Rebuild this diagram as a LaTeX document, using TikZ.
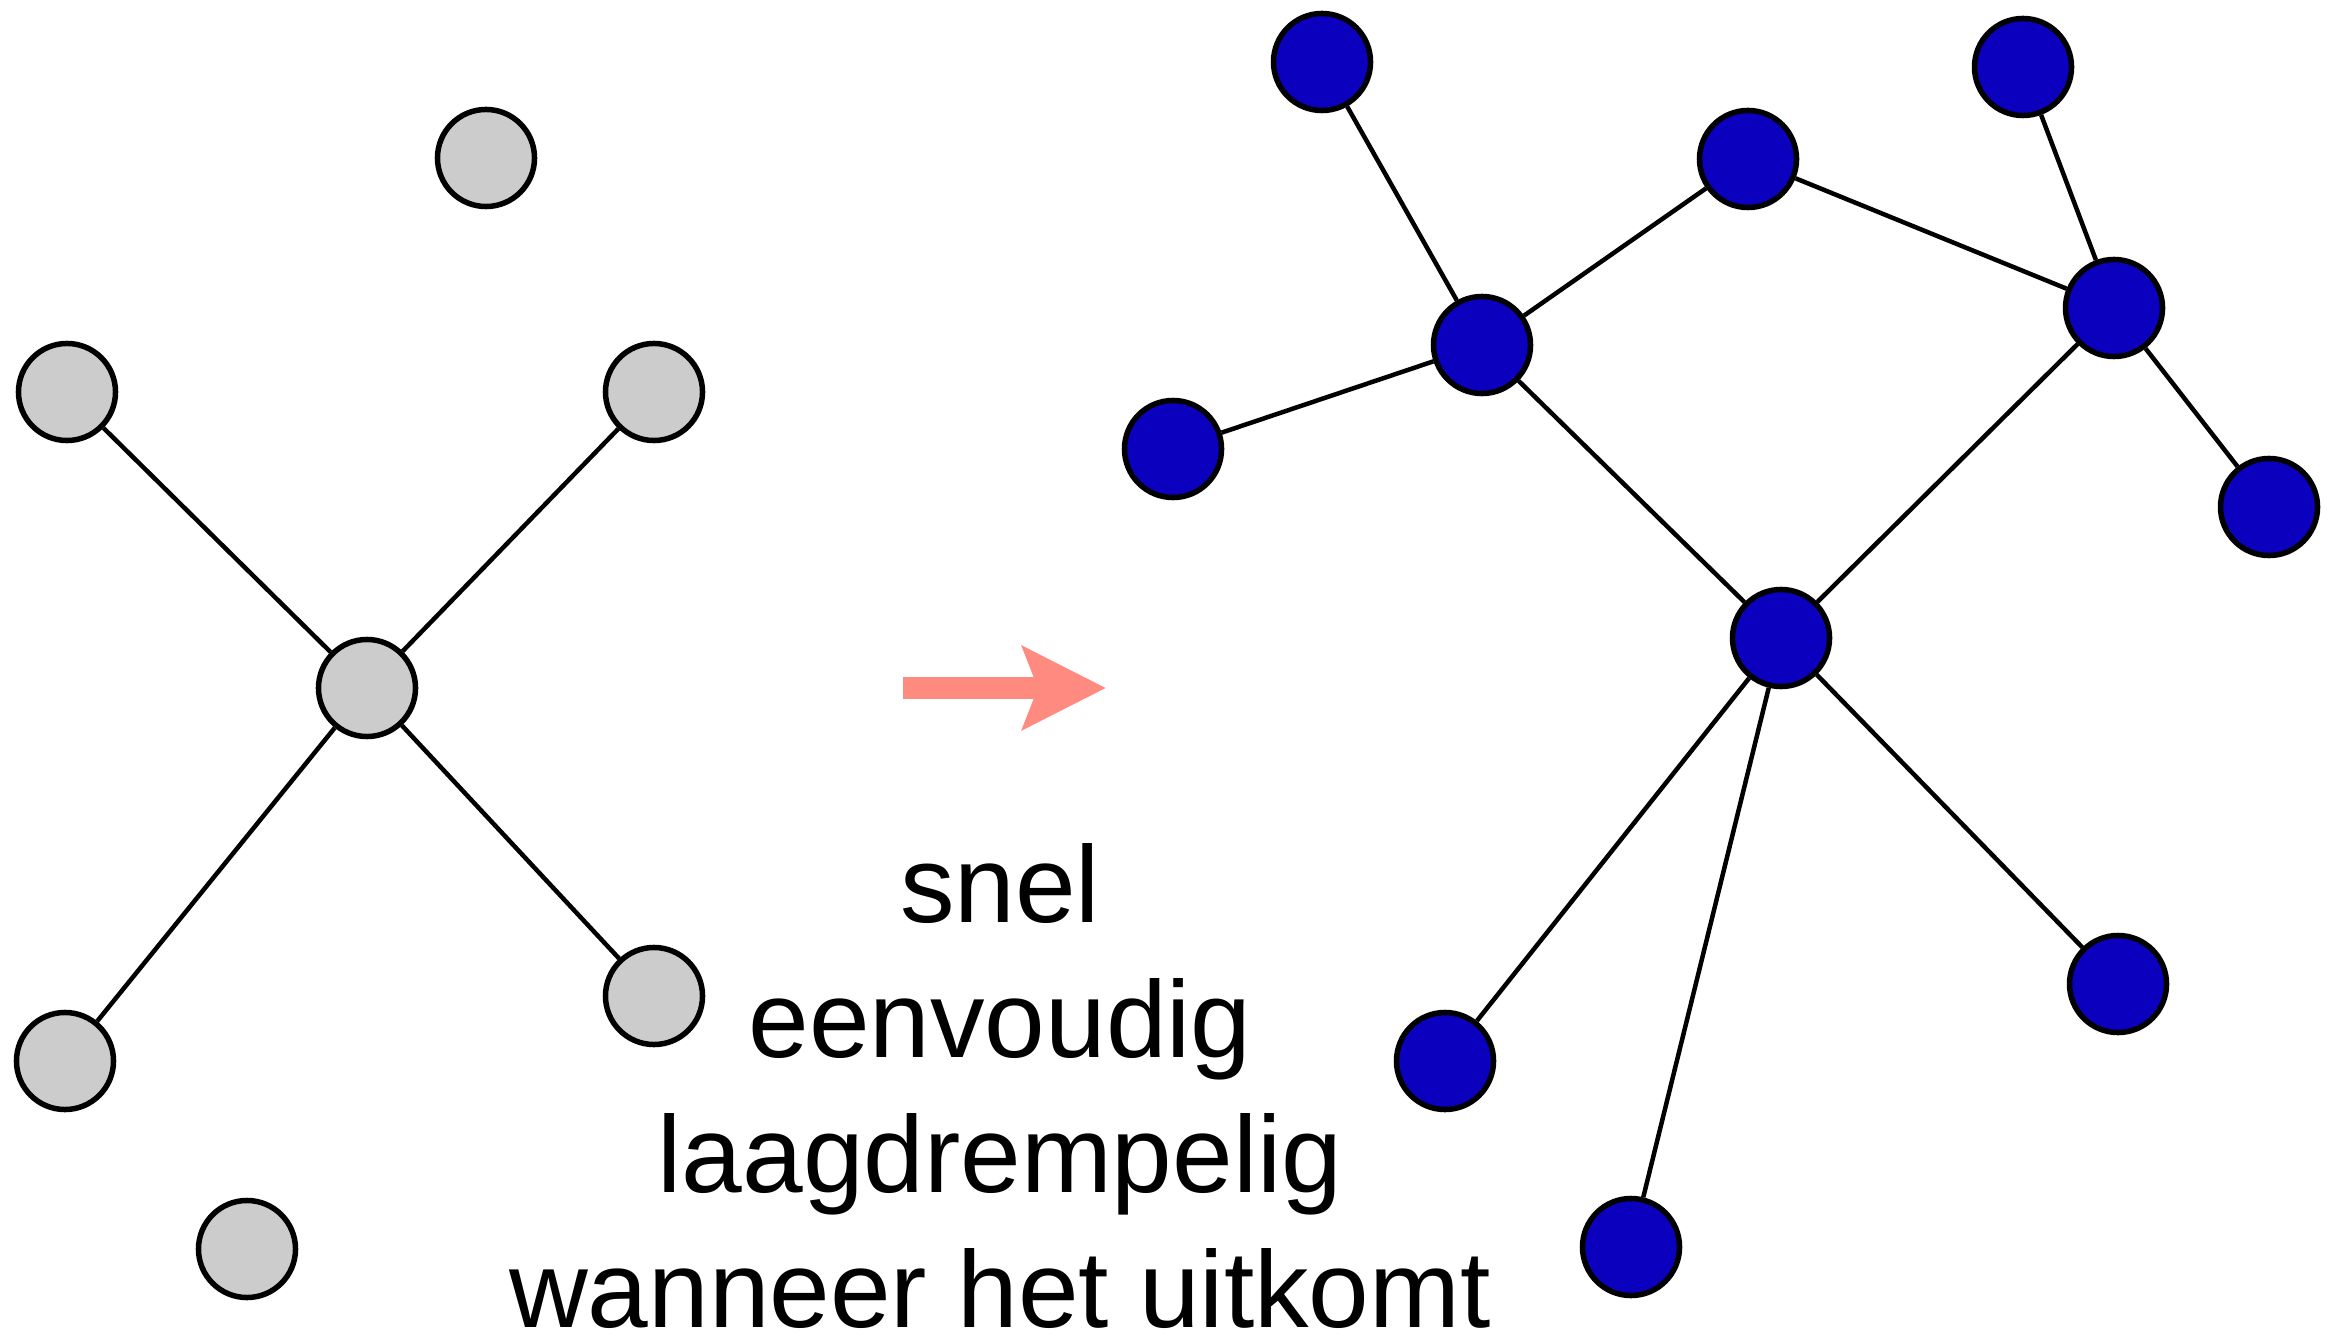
\documentclass[tikz,border=0pt]{standalone}
\usepackage{fontspec}
\setmainfont{Liberation Sans}
\usetikzlibrary{arrows.meta}
\definecolor{nodegray}{RGB}{204,204,204}
\definecolor{nodeblue}{RGB}{10,0,190}
\definecolor{salmon}{RGB}{255,138,128}
\tikzset{
  gnode/.style={circle,draw,fill=nodegray,line width=0.055cm,minimum size=0.97cm,inner sep=0pt},
  bnode/.style={circle,draw,fill=nodeblue,line width=0.055cm,minimum size=0.97cm,inner sep=0pt},
  edge/.style={line width=0.045cm},
  txt/.style={anchor=base,inner sep=0pt,font=\fontsize{31}{38}\selectfont}
}
\begin{document}
\begin{tikzpicture}[x=0.01cm,y=-0.01cm]
\useasboundingbox (0,0) rectangle (2331,1340);
\node[gnode] (l1) at (486,158) {};
\node[gnode] (l2) at (67,392) {};
\node[gnode] (l3) at (654,392) {};
\node[gnode] (lc) at (367,688) {};
\node[gnode] (l4) at (65,1061) {};
\node[gnode] (l5) at (654,996) {};
\node[gnode] (l6) at (247,1249) {};
\draw[edge] (l2) -- (lc);
\draw[edge] (l3) -- (lc);
\draw[edge] (lc) -- (l4);
\draw[edge] (lc) -- (l5);
\node[bnode] (a) at (1322,62) {};
\node[bnode] (b) at (1748,159) {};
\node[bnode] (c) at (2023,67) {};
\node[bnode] (d) at (1482,345) {};
\node[bnode] (e) at (2114,308) {};
\node[bnode] (f) at (1173,449) {};
\node[bnode] (g) at (2269,507) {};
\node[bnode] (h) at (1781,638) {};
\node[bnode] (i) at (2118,984) {};
\node[bnode] (j) at (1445,1061) {};
\node[bnode] (k) at (1631,1247) {};
\draw[edge] (a) -- (d);
\draw[edge] (d) -- (b);
\draw[edge] (b) -- (e);
\draw[edge] (c) -- (e);
\draw[edge] (d) -- (f);
\draw[edge] (d) -- (h);
\draw[edge] (e) -- (h);
\draw[edge] (e) -- (g);
\draw[edge] (h) -- (j);
\draw[edge] (h) -- (k);
\draw[edge] (h) -- (i);
\coordinate (from) at (903,688);
\coordinate (to) at (1106,688);
\draw[salmon,line width=0.22cm,-{Stealth[length=0.83cm,width=0.82cm,inset=0.15cm]}] (from) -- (to);
\node[txt] (snel) at (1000,922) {snel};
\node[txt] (eenvoudig) at (1000,1057) {eenvoudig};
\node[txt] (laag) at (1000,1192) {laagdrempelig};
\node[txt] (wanneer) at (1000,1327) {wanneer het uitkomt};
\end{tikzpicture}
\end{document}
